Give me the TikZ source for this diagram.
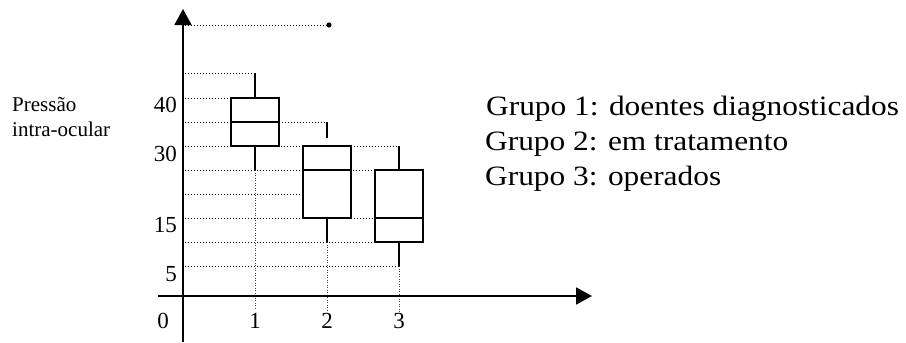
\documentclass[tikz,border=0pt]{standalone}
\usepackage{fontspec}
\setmainfont{Liberation Serif}
\usepackage{graphicx}
\usetikzlibrary{arrows.meta}
\begin{document}
\begin{tikzpicture}[x=1pt,y=-1pt,
  axis/.style={line width=1.8pt,-{Triangle[length=16pt,width=17pt]}},
  boxline/.style={line width=1.8pt},
  guide/.style={line width=1pt,dash pattern=on 1pt off 2pt},
  vguide/.style={line width=0.9pt,dash pattern=on 1pt off 1.5pt,black!75},
  ticklab/.style={font=\fontsize{23}{26}\selectfont,inner sep=0pt},
  legend/.style={font=\fontsize{28}{32}\selectfont,inner sep=0pt,anchor=base west},
  ylab/.style={font=\fontsize{21}{25}\selectfont,inner sep=0pt,align=left,anchor=north west}]
\useasboundingbox (0,0) rectangle (906,343);

% guide lines (horizontal)
\draw[guide] (185,25) -- (329,25);
\fill (329,25) circle (2.6);
\draw[guide] (185,73) -- (255,73);
\draw[guide] (185,98) -- (231,98);
\draw[guide] (185,122) -- (231,122);
\draw[guide] (279,122) -- (327,122);
\draw[guide] (185,146) -- (303,146);
\draw[guide] (351,146) -- (399,146);
\draw[guide] (185,170) -- (375,170);
\draw[guide] (185,194) -- (303,194);
\draw[guide] (185,218) -- (303,218);
\draw[guide] (351,218) -- (375,218);
\draw[guide] (185,242) -- (375,242);
\draw[guide] (185,266) -- (399,266);
% guide lines (vertical)
\draw[vguide] (255,170) -- (255,310);
\draw[vguide] (327,242) -- (327,310);
\draw[vguide] (399,266) -- (399,313);

% axes
\coordinate (ybot) at (183,342);
\coordinate (ytop) at (183,9);
\coordinate (xleft) at (158,296);
\coordinate (xright) at (592,296);
\draw[axis] (ybot) -- (ytop);
\draw[axis] (xleft) -- (xright);

% box 1
\draw[boxline] (231,98) rectangle (279,146);
\draw[boxline] (231,122) -- (279,122);
\draw[boxline] (255,73) -- (255,98);
\draw[boxline] (255,146) -- (255,170);
% box 2
\draw[boxline] (303,146) rectangle (351,218);
\draw[boxline] (303,170) -- (351,170);
\draw[boxline] (327,122) -- (327,138);
\draw[boxline] (327,218) -- (327,242);
% box 3
\draw[boxline] (375,170) rectangle (423,242);
\draw[boxline] (375,218) -- (423,218);
\draw[boxline] (399,146) -- (399,170);
\draw[boxline] (399,242) -- (399,266);

% tick labels
\node[ticklab,anchor=north east] (l40) at (177,97) {40};
\node[ticklab,anchor=north east] (l30) at (177,146) {30};
\node[ticklab,anchor=north east] (l15) at (177,217) {15};
\node[ticklab,anchor=north east] (l5) at (177,266) {5};
\node[ticklab,anchor=north] (l0) at (163,313) {0};
\node[ticklab,anchor=north] (l1) at (255,313) {1};
\node[ticklab,anchor=north] (l2) at (327,313) {2};
\node[ticklab,anchor=north] (l3) at (399,313) {3};

% y-axis title
\node[ylab] (ytitle) at (12,97) {Pressão\\intra-ocular};

% legend
\node[legend] (g1) at (486,115) {\scalebox{1.12}[1]{Grupo 1: doentes diagnosticados}};
\node[legend] (g2) at (485,150) {\scalebox{1.12}[1]{Grupo 2: em tratamento}};
\node[legend] (g3) at (485,185) {\scalebox{1.12}[1]{Grupo 3: operados}};
\end{tikzpicture}
\end{document}
